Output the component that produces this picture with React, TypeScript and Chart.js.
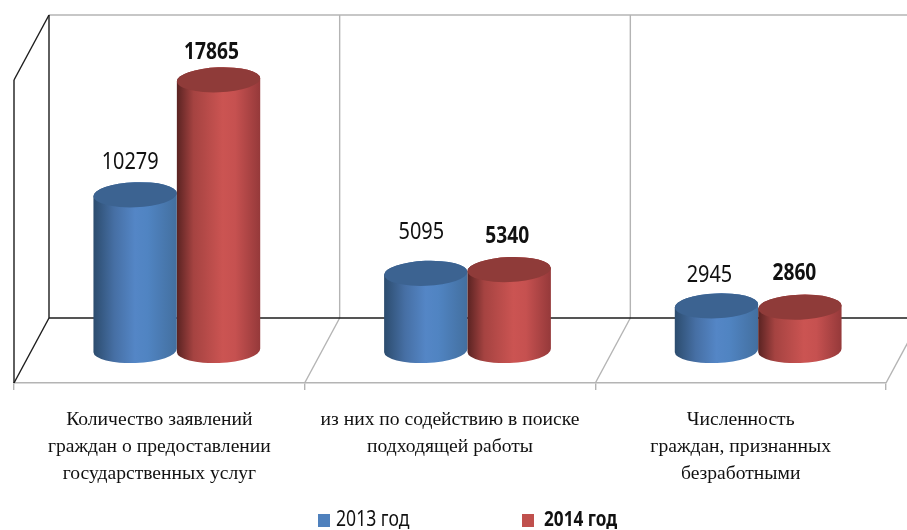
import React, { useEffect, useRef } from "react";
import { Chart, registerables } from "chart.js";

Chart.register(...registerables);

const categories = [
  ["Количество заявлений", "граждан о предоставлении", "государственных услуг"],
  ["из них по содействию в поиске", "подходящей работы"],
  ["Численность", "граждан, признанных", "безработными"],
];
const seriesNames = ["2013 год", "2014 год"];
const values2013 = [10279, 5095, 2945];
const values2014 = [17865, 5340, 2860];

const SANS = '"Noto Sans", sans-serif';
const SERIF = '"Liberation Serif", serif';
const DX = 35; // depth of the floor, horizontally
const DY = 65; // depth of the floor, vertically
const GRAY = "#b4b4b4";
const DARK = "#1c1c1c";

const looks = [
  {
    top: "#3c6391",
    stops: [[0, "#2c4c6e"], [0.25, "#466fa4"], [0.5, "#5486c6"], [0.65, "#5084c2"], [1, "#436f9f"]],
    legend: "#4f81bd",
    weight: "normal",
  },
  {
    top: "#8f3b39",
    stops: [[0, "#5a2322"], [0.2, "#a54341"], [0.55, "#cb5452"], [0.7, "#c65150"], [1, "#95393a"]],
    legend: "#c0504d",
    weight: "bold",
  },
];
const labelNudge = [
  [[-5, -33], [-4.5, -41], [-7, -31]],
  [[-7, -28], [-2, -33], [-5.5, -34]],
];

function line(ctx: CanvasRenderingContext2D, color: string, x1: number, y1: number, x2: number, y2: number) {
  ctx.beginPath();
  ctx.strokeStyle = color;
  ctx.lineWidth = 1.4;
  ctx.moveTo(x1, y1);
  ctx.lineTo(x2, y2);
  ctx.stroke();
}

function narrowText(ctx: CanvasRenderingContext2D, text: string, x: number, y: number, squeeze: number) {
  ctx.save();
  ctx.translate(x, y);
  ctx.scale(squeeze, 1);
  ctx.fillText(text, 0, 0);
  ctx.restore();
}

const cylinders = {
  id: "cylinders",
  beforeDatasetsDraw(chart: any) {
    const { ctx, chartArea: a } = chart;
    const step = (a.right - a.left) / categories.length;
    ctx.save();
    // back walls and floor
    line(ctx, GRAY, a.left + DX, a.top - DY, 907, a.top - DY);
    for (let i = 1; i <= categories.length; i++) {
      const x = a.left + step * i;
      line(ctx, GRAY, x + DX, a.top - DY, x + DX, a.bottom - DY);
      line(ctx, GRAY, x, a.bottom, x + DX, a.bottom - DY);
    }
    line(ctx, DARK, a.left + DX, a.bottom - DY, 907, a.bottom - DY);
    line(ctx, DARK, a.left, a.bottom, a.left + DX, a.bottom - DY);
    line(ctx, DARK, a.left, a.top, a.left, a.bottom);
    line(ctx, DARK, a.left, a.top, a.left + DX, a.top - DY);
    line(ctx, DARK, a.left + DX, a.top - DY, a.left + DX, a.bottom - DY);
    ctx.restore();
  },
  afterDatasetsDraw(chart: any) {
    const { ctx } = chart;
    const tilt = -0.04;
    const ry = 12.5;
    ctx.save();
    chart.data.datasets.forEach((ds: any, d: number) => {
      const look = looks[d];
      chart.getDatasetMeta(d).data.forEach((bar: any, i: number) => {
        const cx = bar.x + DX / 2;
        const rx = bar.width / 2;
        const topY = bar.y - DY / 2;
        const botY = bar.base - DY / 2;
        const g = ctx.createLinearGradient(cx - rx, 0, cx + rx, 0);
        look.stops.forEach(([p, c]: any) => g.addColorStop(p, c));
        ctx.beginPath();
        ctx.ellipse(cx, botY, rx, ry, tilt, Math.PI, 0, true);
        ctx.ellipse(cx, topY, rx, ry, tilt, 0, Math.PI, true);
        ctx.closePath();
        ctx.fillStyle = g;
        ctx.fill();
        ctx.beginPath();
        ctx.ellipse(cx, topY, rx, ry, tilt, 0, Math.PI * 2);
        ctx.fillStyle = look.top;
        ctx.fill();
        // value label
        const [nx, ny] = labelNudge[d][i];
        ctx.fillStyle = "#111";
        ctx.font = `${look.weight} 24px ${SANS}`;
        ctx.textAlign = "center";
        ctx.textBaseline = "middle";
        narrowText(ctx, String(ds.data[i]), cx + nx, topY + ny, d ? 0.8 : 0.83);
      });
    });
    // legend
    ctx.textBaseline = "middle";
    ctx.textAlign = "left";
    const legendX = [318, 522];
    chart.data.datasets.forEach((ds: any, d: number) => {
      ctx.fillStyle = looks[d].legend;
      ctx.fillRect(legendX[d], 514, 12, 13);
      ctx.fillStyle = "#111";
      ctx.font = `${looks[d].weight} 22px ${SANS}`;
      narrowText(ctx, ds.label, legendX[d] + (d ? 22 : 18), 520, d ? 0.78 : 0.8);
    });
    ctx.restore();
  },
};

export default function App() {
  const ref = useRef<HTMLCanvasElement>(null);
  useEffect(() => {
    document.body.style.margin = "0";
    const chart = new Chart(ref.current!, {
      type: "bar",
      data: {
        labels: categories as any,
        datasets: [
          { label: seriesNames[0], data: values2013, backgroundColor: "transparent" },
          { label: seriesNames[1], data: values2014, backgroundColor: "transparent" },
        ],
      },
      plugins: [cylinders],
      options: {
        responsive: false,
        animation: false,
        layout: { padding: { top: 80, left: 14, right: 21, bottom: 0 } },
        datasets: { bar: { categoryPercentage: 0.574, barPercentage: 1 } },
        plugins: { legend: { display: false }, tooltip: { enabled: false } },
        scales: {
          y: { display: false, min: 0, max: 20000 },
          x: {
            afterFit(scale: any) {
              scale.height = 147;
            },
            border: { display: true, color: GRAY, width: 1.4 },
            grid: { drawOnChartArea: false, drawTicks: true, tickLength: 7, color: GRAY, lineWidth: 1.4 },
            ticks: {
              autoSkip: false,
              minRotation: 0,
              maxRotation: 0,
              padding: 16,
              color: "#111",
              font: { family: SERIF, size: 19.6, lineHeight: 1.38 },
            },
          },
        },
      },
    } as any);
    return () => chart.destroy();
  }, []);
  return (
    <div style={{ width: 907, height: 530, overflow: "hidden" }}>
      <canvas ref={ref} width={907} height={530} style={{ display: "block" }} />
    </div>
  );
}
